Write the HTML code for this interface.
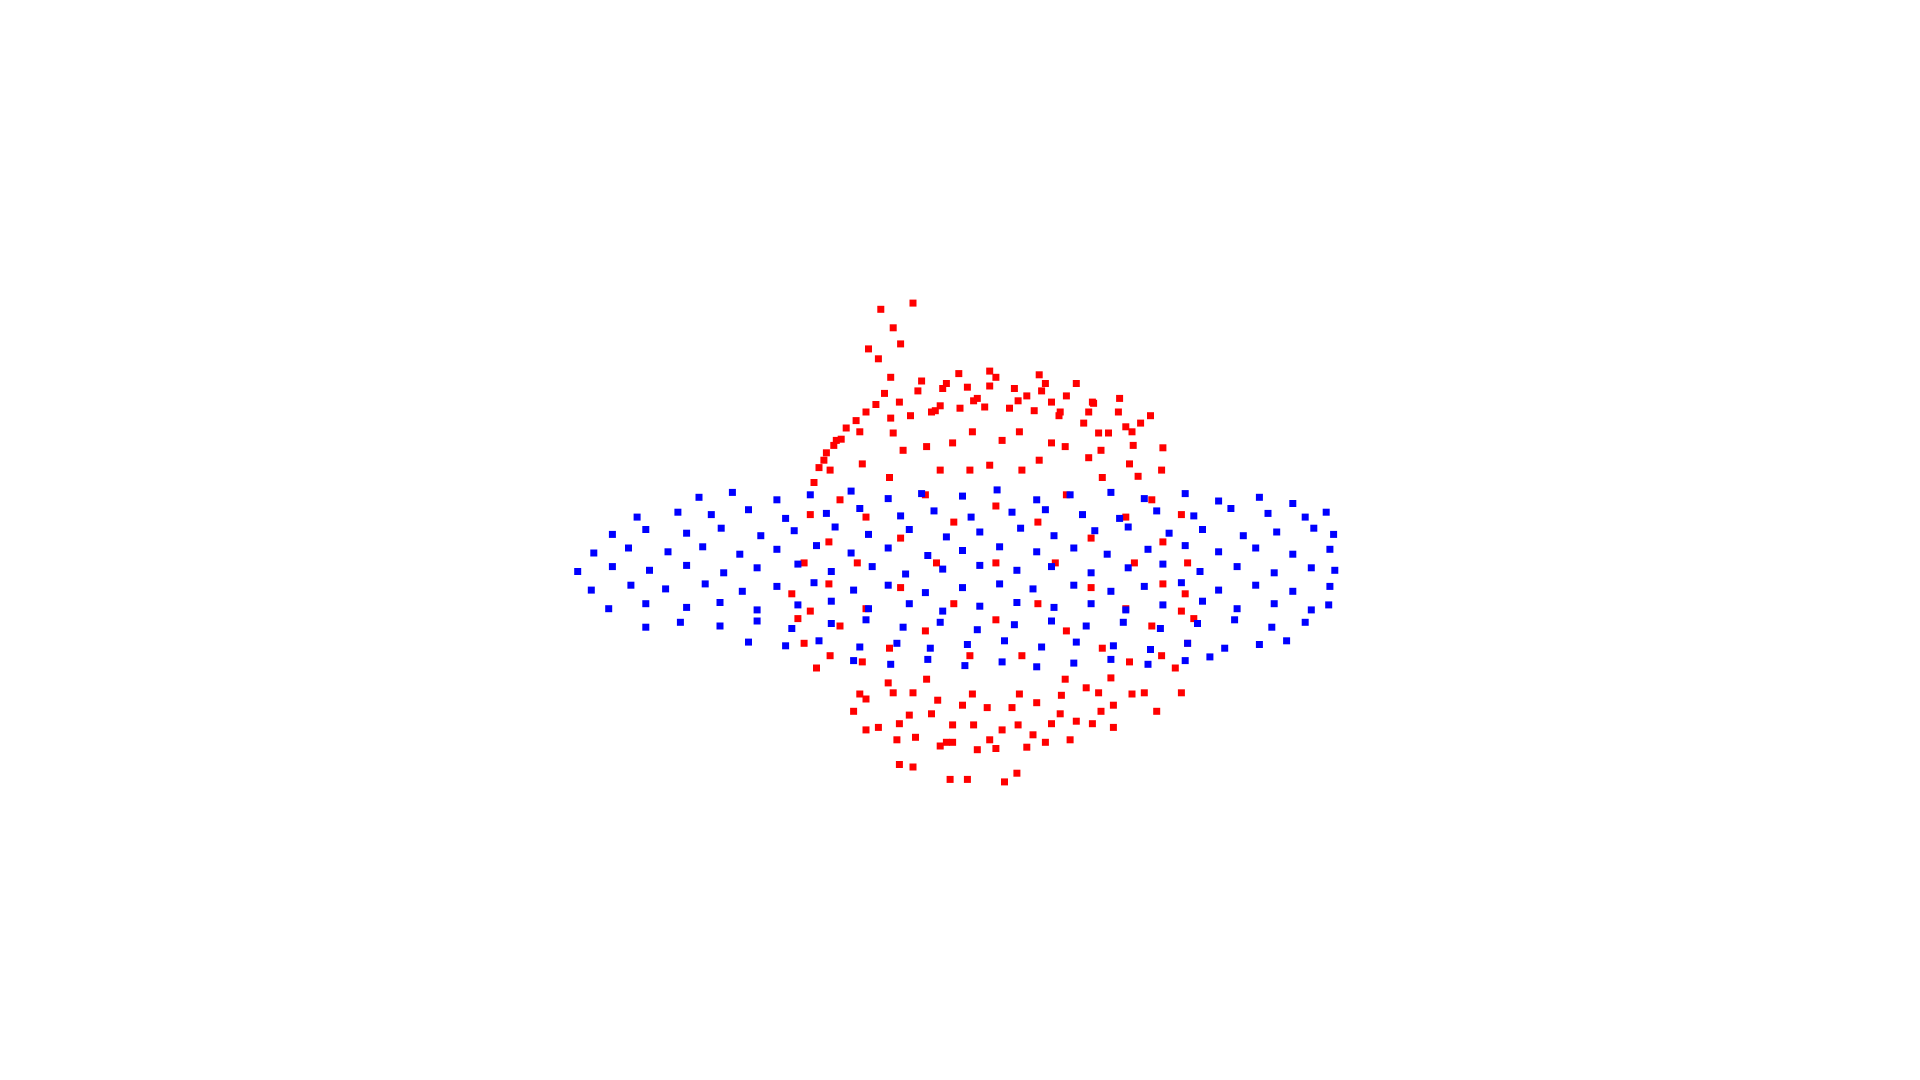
<!DOCTYPE html>
<html>
<head>
<meta charset="utf-8">
<style>
  html,body{margin:0;padding:0;background:#fff;}
  svg{display:block;}
</style>
</head>
<body>
<svg id="chart" width="1920" height="1080" viewBox="0 0 1920 1080">
  <rect width="1920" height="1080" fill="#ffffff"/>
  <g id="red"></g>
  <g id="blue"></g>
</svg>
<script>
// Sphere (red) points, data coordinates
const redX = [960,955,955,939,939,915,915,883,883,845,845,805,805,
  650,655,655,671,671,695,695,727,727,765,765,
  940,940,931,931,913,913,888,888,857,857,823,823,
  670,670,679,679,697,697,722,722,753,753,787,787,
  917,910,910,891,891,861,861,824,824,
  693,700,700,719,719,749,749,786,786,
  882,882,862,862,826,826,728,728,748,748,784,784,
  853,839,839,805,805,757,771,771,
  805,
  712,738,722,728,702,710,720,
  727,738,768,782,812,822,
  700,725,760,790,830,865,900,935,955,
  715,745,775,800,840,870,905,930,
  690,710,740,770,800,835,870,900,
  660,650,645,640,960,965,958,950,
  680,720,760,790,830,850,880,910,940,
  700,735,770,810,850,890,925,
  662,668,676,684,692,700,708,658,666,674,
  742,762,782,800,820,842,862,884,904,922,
  736,756,776,796,816,836,856,876,896,916,
  718,738,758,778,798,818,838,858,878,898,
  730,770,810,850,890,760,800,840,880,920];
const redY = [455,494,416,530,380,561,349,585,325,600,310,605,305,
  455,494,416,530,380,561,349,585,325,600,310,
  472,438,506,404,535,375,560,350,577,333,586,324,
  472,438,506,404,535,375,560,350,577,333,586,324,
  455,492,418,524,386,549,361,561,349,
  455,492,418,524,386,549,361,561,349,
  475,435,510,400,530,380,475,435,510,400,530,380,
  455,488,422,501,409,455,488,422,
  455,
  250,245,265,278,282,290,305,
  618,620,630,630,632,625,
  590,598,603,606,604,598,588,575,560,
  318,308,302,300,303,310,322,336,
  575,588,596,600,598,594,583,570,
  540,520,500,480,520,500,480,540,
  355,338,328,322,320,325,333,345,362,
  565,578,586,590,585,575,560,
  378,366,356,346,340,333,327,390,372,360,
  316,314,313,312,314,316,320,326,333,342,
  336,332,330,329,330,332,336,342,350,360,
  552,560,566,570,572,572,568,562,556,548,
  364,358,356,358,364,380,376,372,370,385];

// Ring (blue) points, data coordinates
const blueX = [565,592,628,655,688,718,745,778,806,838,865,898,925,958,985,1018,1045,
  515,548,575,605,635,668,695,728,755,785,818,845,875,905,935,965,995,1025,1055,1072,
  495,522,555,583,615,642,675,702,735,765,792,825,852,885,912,945,972,1005,1032,1062,1078,
  480,508,540,568,598,628,660,688,718,750,778,808,838,868,895,928,958,985,1015,1045,1075,
  467,495,525,555,585,612,645,672,705,732,762,792,822,850,882,912,940,970,1000,1030,1060,1079,
  478,510,538,570,600,628,658,690,718,748,778,808,835,868,898,925,955,985,1015,1045,1075,
  492,522,555,582,612,645,672,702,735,762,792,822,852,882,910,940,972,1000,1030,1060,1074,
  522,550,582,612,640,672,700,730,760,790,820,850,878,908,938,968,998,1028,1055,
  605,635,662,695,725,752,782,812,842,870,900,930,960,990,1018,1040,
  690,720,750,780,810,838,868,898,928,958,978];
const blueY = [402,398,404,400,397,403,399,401,396,404,400,398,403,399,405,402,407,
  418,414,416,412,419,415,411,417,413,418,414,412,416,419,413,417,411,415,418,414,
  432,428,431,427,433,429,426,432,428,434,430,427,433,429,426,431,428,433,430,427,432,
  447,443,446,442,448,444,441,447,443,449,445,442,446,443,448,444,441,446,443,448,444,
  462,458,461,457,463,459,456,462,458,464,460,457,461,458,463,459,456,462,458,463,459,461,
  477,473,476,472,478,474,471,477,473,479,475,472,476,473,478,474,471,477,473,478,474,
  492,488,491,487,493,489,486,492,488,494,490,487,491,488,493,489,486,492,488,493,489,
  507,503,506,502,508,504,501,507,503,509,505,502,506,503,508,504,501,507,503,
  519,522,518,523,520,524,521,518,523,519,522,525,520,524,521,518,
  534,537,533,538,535,539,536,533,537,534,531];

const W = 1920, H = 1080, SRC_W = 1552, SRC_H = 873;
function xScale(v){ return v * W / SRC_W; }
function yScale(v){ return v * H / SRC_H; }
const NS = 'http://www.w3.org/2000/svg';
const S = 7;

const redG = document.getElementById('red');
for (let i = 0; i < redX.length; i++) {
  const r = document.createElementNS(NS, 'rect');
  r.setAttribute('x', (xScale(redX[i]) - S/2).toFixed(1));
  r.setAttribute('y', (yScale(redY[i]) - S/2).toFixed(1));
  r.setAttribute('width', S);
  r.setAttribute('height', S);
  r.setAttribute('fill', '#ff0000');
  
  
  redG.appendChild(r);
}
const blueG = document.getElementById('blue');
for (let i = 0; i < blueX.length; i++) {
  const r = document.createElementNS(NS, 'rect');
  r.setAttribute('x', (xScale(blueX[i]) - S/2).toFixed(1));
  r.setAttribute('y', (yScale(blueY[i]) - S/2).toFixed(1));
  r.setAttribute('width', S);
  r.setAttribute('height', S);
  r.setAttribute('fill', '#0000ff');
  
  
  blueG.appendChild(r);
}
</script>
</body>
</html>
